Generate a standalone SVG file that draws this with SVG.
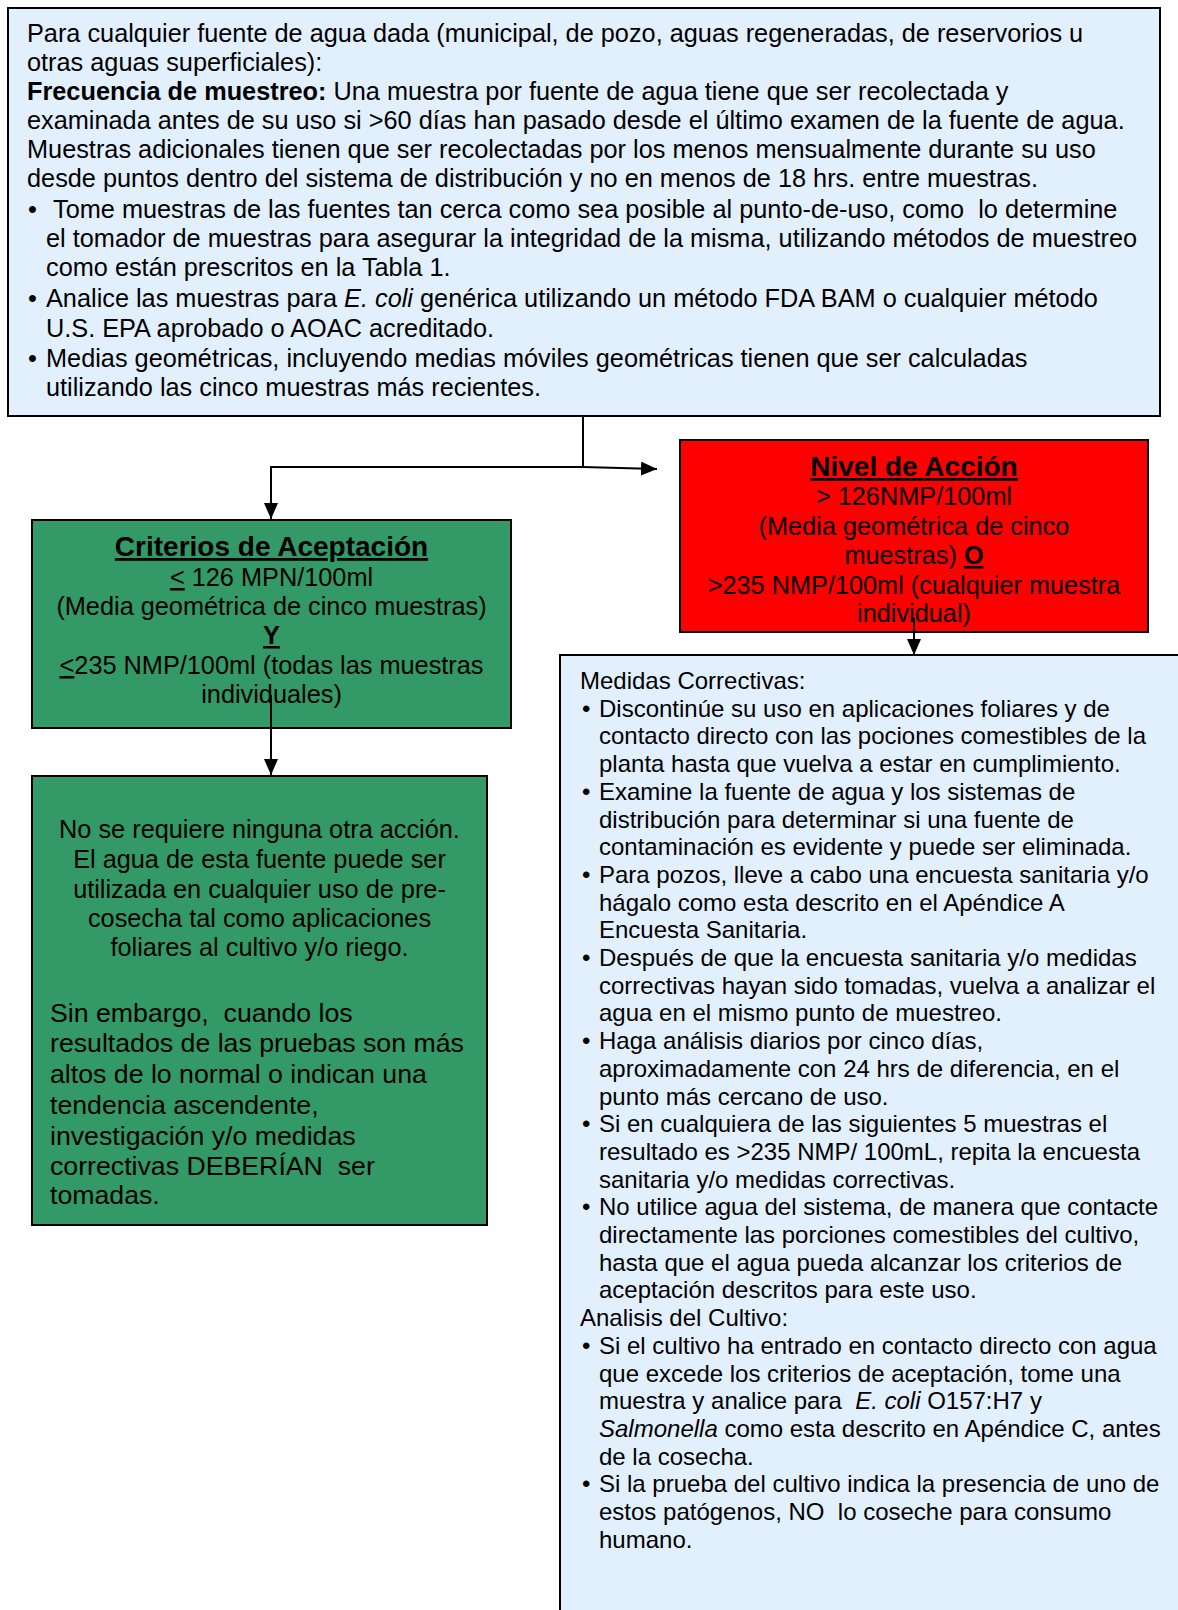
<svg xmlns="http://www.w3.org/2000/svg" width="1178" height="1610" viewBox="0 0 1178 1610">
<style>
.box{stroke:#000;stroke-width:2}
.blue{fill:#E2F0FE}
.green{fill:#339966}
.red{fill:#FF0000}
text{font-family:"Liberation Sans",Arial,sans-serif;fill:#000}
.f25{font-size:25.3px}
.f24{font-size:24px}
.f27{font-size:26.7px}
.h{font-size:28px;font-weight:bold;text-decoration:underline}
.c{text-anchor:middle}
.b{font-weight:bold}
.i{font-style:italic}
.u{text-decoration:underline}
.conn{fill:none;stroke:#000;stroke-width:2}
</style>
<defs>
<marker id="ah" markerWidth="16" markerHeight="14" refX="16" refY="7" orient="auto" markerUnits="userSpaceOnUse"><path d="M0,0 L16,7 L0,14 Z" fill="#000"/></marker>
</defs>
<rect width="1178" height="1610" fill="#fff"/>
<g id="top-box">
<rect class="box blue" x="8" y="8" width="1152" height="408"/>
<text class="f25" x="27" y="42">Para cualquier fuente de agua dada (municipal, de pozo, aguas regeneradas, de reservorios u</text>
<text class="f25" x="27" y="71">otras aguas superficiales):</text>
<text class="f25" x="27" y="100"><tspan class="b">Frecuencia de muestreo:</tspan> Una muestra por fuente de agua tiene que ser recolectada y</text>
<text class="f25" x="27" y="129">examinada antes de su uso si &gt;60 días han pasado desde el último examen de la fuente de agua.</text>
<text class="f25" x="27" y="158">Muestras adicionales tienen que ser recolectadas por los menos mensualmente durante su uso</text>
<text class="f25" x="27" y="187">desde puntos dentro del sistema de distribución y no en menos de 18 hrs. entre muestras.</text>
<text class="f25" x="28" y="218">•</text>
<text class="f25" x="53" y="218">Tome muestras de las fuentes tan cerca como sea posible al punto-de-uso, como&#160; lo determine</text>
<text class="f25" x="46" y="247">el tomador de muestras para asegurar la integridad de la misma, utilizando métodos de muestreo</text>
<text class="f25" x="46" y="276">como están prescritos en la Tabla 1.</text>
<text class="f25" x="28" y="307">•</text>
<text class="f25" x="46" y="307">Analice las muestras para <tspan class="i">E. coli</tspan> genérica utilizando un método FDA BAM o cualquier método</text>
<text class="f25" x="46" y="337">U.S. EPA aprobado o AOAC acreditado.</text>
<text class="f25" x="28" y="367">•</text>
<text class="f25" x="46" y="367">Medias geométricas, incluyendo medias móviles geométricas tienen que ser calculadas</text>
<text class="f25" x="46" y="396">utilizando las cinco muestras más recientes.</text>
</g>
<g id="acceptance">
<rect class="box green" x="32" y="520" width="479" height="208"/>
<text class="h c" x="271.5" y="556">Criterios de Aceptación</text>
<text class="f25 c" x="271.5" y="586"><tspan class="u">&lt;</tspan> 126 MPN/100ml</text>
<text class="f25 c" x="271.5" y="615">(Media geométrica de cinco muestras)</text>
<text class="f25 c b u" x="271.5" y="644">Y</text>
<text class="f25 c" x="271.5" y="674"><tspan class="u">&lt;</tspan>235 NMP/100ml (todas las muestras</text>
<text class="f25 c" x="271.5" y="703">individuales)</text>
</g>
<g id="action-level">
<rect class="box red" x="680" y="440" width="468" height="192"/>
<text class="h c" x="914" y="476">Nivel de Acción</text>
<text class="f25 c" x="914" y="505">&gt; 126NMP/100ml</text>
<text class="f25 c" x="914" y="535">(Media geométrica de cinco</text>
<text class="f25 c" x="914" y="564">muestras) <tspan class="b u">O</tspan></text>
<text class="f25 c" x="914" y="594">&gt;235 NMP/100ml (cualquier muestra</text>
<text class="f25 c" x="914" y="622">individual)</text>
</g>
<g id="no-action">
<rect class="box green" x="32" y="776" width="455" height="449"/>
<text class="f25 c" x="259.5" y="838">No se requiere ninguna otra acción.</text>
<text class="f25 c" x="259.5" y="868">El agua de esta fuente puede ser</text>
<text class="f25 c" x="259.5" y="898">utilizada en cualquier uso de pre-</text>
<text class="f25 c" x="259.5" y="927">cosecha tal como aplicaciones</text>
<text class="f25 c" x="259.5" y="956">foliares al cultivo y/o riego.</text>
<text class="f27" x="50" y="1022">Sin embargo,&#160; cuando los</text>
<text class="f27" x="50" y="1052">resultados de las pruebas son más</text>
<text class="f27" x="50" y="1083">altos de lo normal o indican una</text>
<text class="f27" x="50" y="1114">tendencia ascendente,</text>
<text class="f27" x="50" y="1145">investigación y/o medidas</text>
<text class="f27" x="50" y="1175">correctivas DEBERÍAN&#160; ser</text>
<text class="f27" x="50" y="1204">tomadas.</text>
</g>
<g id="corrective">
<rect class="box blue" x="560" y="655" width="640" height="980"/>
<text class="f24" x="580" y="689">Medidas Correctivas:</text>
<text class="f24" x="582" y="717">•</text><text class="f24" x="599" y="717">Discontinúe su uso en aplicaciones foliares y de</text>
<text class="f24" x="599" y="744">contacto directo con las pociones comestibles de la</text>
<text class="f24" x="599" y="772">planta hasta que vuelva a estar en cumplimiento.</text>
<text class="f24" x="582" y="800">•</text><text class="f24" x="599" y="800">Examine la fuente de agua y los sistemas de</text>
<text class="f24" x="599" y="828">distribución para determinar si una fuente de</text>
<text class="f24" x="599" y="855">contaminación es evidente y puede ser eliminada.</text>
<text class="f24" x="582" y="883">•</text><text class="f24" x="599" y="883">Para pozos, lleve a cabo una encuesta sanitaria y/o</text>
<text class="f24" x="599" y="911">hágalo como esta descrito en el Apéndice A</text>
<text class="f24" x="599" y="938">Encuesta Sanitaria.</text>
<text class="f24" x="582" y="966">•</text><text class="f24" x="599" y="966">Después de que la encuesta sanitaria y/o medidas</text>
<text class="f24" x="599" y="994">correctivas hayan sido tomadas, vuelva a analizar el</text>
<text class="f24" x="599" y="1021">agua en el mismo punto de muestreo.</text>
<text class="f24" x="582" y="1049">•</text><text class="f24" x="599" y="1049">Haga análisis diarios por cinco días,</text>
<text class="f24" x="599" y="1077">aproximadamente con 24 hrs de diferencia, en el</text>
<text class="f24" x="599" y="1105">punto más cercano de uso.</text>
<text class="f24" x="582" y="1132">•</text><text class="f24" x="599" y="1132">Si en cualquiera de las siguientes 5 muestras el</text>
<text class="f24" x="599" y="1160">resultado es &gt;235 NMP/ 100mL, repita la encuesta</text>
<text class="f24" x="599" y="1188">sanitaria y/o medidas correctivas.</text>
<text class="f24" x="582" y="1215">•</text><text class="f24" x="599" y="1215">No utilice agua del sistema, de manera que contacte</text>
<text class="f24" x="599" y="1243">directamente las porciones comestibles del cultivo,</text>
<text class="f24" x="599" y="1271">hasta que el agua pueda alcanzar los criterios de</text>
<text class="f24" x="599" y="1298">aceptación descritos para este uso.</text>
<text class="f24" x="580" y="1326">Analisis del Cultivo:</text>
<text class="f24" x="582" y="1354">•</text><text class="f24" x="599" y="1354">Si el cultivo ha entrado en contacto directo con agua</text>
<text class="f24" x="599" y="1382">que excede los criterios de aceptación, tome una</text>
<text class="f24" x="599" y="1409">muestra y analice para&#160; <tspan class="i">E. coli</tspan> O157:H7 y</text>
<text class="f24" x="599" y="1437"><tspan class="i">Salmonella</tspan> como esta descrito en Apéndice C, antes</text>
<text class="f24" x="599" y="1465">de la cosecha.</text>
<text class="f24" x="582" y="1492">•</text><text class="f24" x="599" y="1492">Si la prueba del cultivo indica la presencia de uno de</text>
<text class="f24" x="599" y="1520">estos patógenos, NO&#160; lo coseche para consumo</text>
<text class="f24" x="599" y="1548">humano.</text>
</g>
<g id="connectors">
<path class="conn" d="M583,416 V467"/>
<path class="conn" d="M583,467 H271 V519" marker-end="url(#ah)"/>
<path class="conn" d="M583,467 L657,469" marker-end="url(#ah)"/>
<path class="conn" d="M914,618 V655" marker-end="url(#ah)"/>
<path class="conn" d="M271,695 V775" marker-end="url(#ah)"/>
</g>
</svg>
